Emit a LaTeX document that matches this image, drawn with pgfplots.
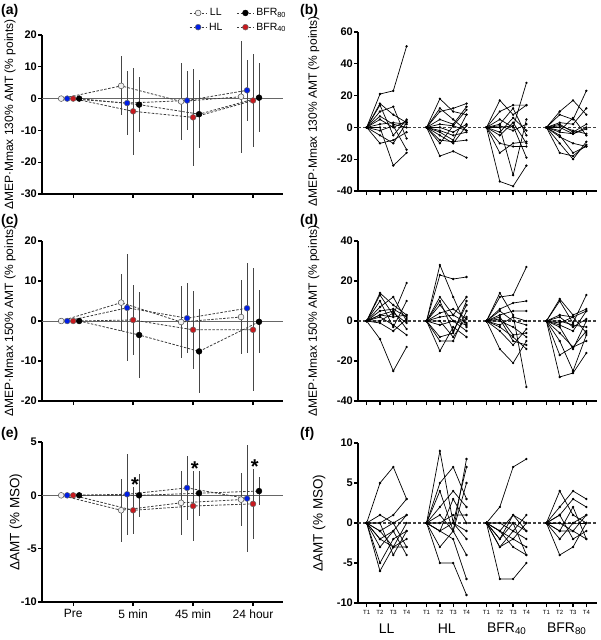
\documentclass[border=0pt]{standalone}
\usepackage{fontspec}
\setmainfont{Liberation Sans}
\usepackage{pgfplots}
\pgfplotsset{compat=1.18}
\usepackage{pgfplotstable}

\definecolor{myblue}{RGB}{0,30,230}
\definecolor{myred}{RGB}{200,25,30}
\definecolor{llfill}{RGB}{240,240,240}
\definecolor{errgray}{RGB}{70,70,70}
\definecolor{dashgray}{RGB}{60,60,60}

% group means and SD, t = 0 Pre, 1 5 min, 2 45 min, 3 24 hour
\pgfplotstableread{
t ll sll hl shl bf sbf bh sbh
0 0 0 0 0 0 0 0 0
1 4.0 9.3 -1.4 10.0 -4.0 13.7 -1.9 8.6
2 -0.9 12.2 -0.6 9.4 -5.9 15.3 -4.9 10.7
3 0.6 17.6 2.6 9.6 -0.6 14.7 0.3 10.9
}\tabA
\pgfplotstableread{
t ll sll hl shl bf sbf bh sbh
0 0 0 0 0 0 0 0 0
1 4.6 7.1 3.3 13.4 0.25 8.8 -3.5 10.7
2 -0.25 8.9 0.7 8.75 -2.2 9.7 -7.6 10.5
3 1.0 9.2 3.2 11.2 -2.2 15.4 -0.2 7.9
}\tabC
\pgfplotstableread{
t ll sll hl shl bf sbf bh sbh
0 0 0 0 0 0 0 0 0
1 -1.4 2.95 0.1 3.8 -1.4 2.2 0.0 2.0
2 -0.7 3.0 0.7 3.0 -1.0 3.25 0.2 2.1
3 -0.4 2.5 -0.3 5.0 -0.8 3.3 0.4 1.35
}\tabE

\pgfplotsset{
  base/.style={scale only axis, axis x line*=bottom, axis y line*=left,
    tick align=outside, major tick length=4pt,
    axis line style={line width=1.3pt},
    every tick/.style={line width=1.3pt, black},
    tick label style={font=\bfseries\fontsize{11}{12}\selectfont},
    /pgf/number format/assume math mode=true,
    yticklabel style={inner sep=1pt},
    xticklabels={}, clip=false,
    ylabel style={font=\fontsize{12}{14}\selectfont, anchor=center}},
  leftax/.style={base, width=241pt, height=159pt, xmin=-0.52, xmax=3.5, xtick={0,1,2,3}},
  rightax/.style={base, width=239pt, height=159pt, xmin=-0.65, xmax=17.3,
    xtick={0,1,2,3,4.5,5.5,6.5,7.5,9,10,11,12,13.5,14.5,15.5,16.5}},
  spag/.style={black, line width=0.7pt, mark=*, mark size=0.8pt, forget plot},
  eb/.style={draw=none, mark=none, forget plot,
    error bars/.cd, y dir=both, y explicit, error mark=none,
    error bar style={line width=0.9pt, errgray, solid}},
  dl/.style={dashgray, line width=0.8pt, dash pattern=on 2.5pt off 1.5pt},
  mk/.style={only marks, mark=*, mark size=2.9pt, forget plot},
  mLL/.style={mark options={fill=llfill, draw=black!70, line width=0.5pt, solid}},
  mHL/.style={mark options={fill=myblue, draw=black!60, line width=0.5pt, solid}},
  mBF/.style={mark options={fill=myred, draw=black!60, line width=0.5pt, solid}},
  mBH/.style={mark options={fill=black, draw=black, line width=0.5pt, solid}},
}

\newcommand\means[1]{%
  \addplot[gray!80!black, line width=0.9pt, forget plot] coordinates {(-0.52,0) (3.5,0)};
  \addplot[eb] table[x expr=\thisrow{t}-0.2, y=ll, y error=sll]{#1};
  \addplot[eb] table[x expr=\thisrow{t}-0.1, y=hl, y error=shl]{#1};
  \addplot[eb] table[x expr=\thisrow{t}, y=bf, y error=sbf]{#1};
  \addplot[eb] table[x expr=\thisrow{t}+0.1, y=bh, y error=sbh]{#1};
  \addplot[dl, forget plot] table[x expr=\thisrow{t}-0.2, y=ll]{#1};
  \addplot[dl, forget plot] table[x expr=\thisrow{t}-0.1, y=hl]{#1};
  \addplot[dl, forget plot] table[x expr=\thisrow{t}, y=bf]{#1};
  \addplot[dl, forget plot] table[x expr=\thisrow{t}+0.1, y=bh]{#1};
  \addplot[mk, mLL] table[x expr=\thisrow{t}-0.2, y=ll]{#1};
  \addplot[mk, mHL] table[x expr=\thisrow{t}-0.1, y=hl]{#1};
  \addplot[mk, mBF] table[x expr=\thisrow{t}, y=bf]{#1};
  \addplot[mk, mBH] table[x expr=\thisrow{t}+0.1, y=bh]{#1};
}
% one subject per call: values at T2, T3, T4 (T1 = 0)
\newcommand\ga[3]{\addplot[spag] coordinates {(0,0)(1,#1)(2,#2)(3,#3)};}
\newcommand\gb[3]{\addplot[spag] coordinates {(4.5,0)(5.5,#1)(6.5,#2)(7.5,#3)};}
\newcommand\gc[3]{\addplot[spag] coordinates {(9,0)(10,#1)(11,#2)(12,#3)};}
\newcommand\gd[3]{\addplot[spag] coordinates {(13.5,0)(14.5,#1)(15.5,#2)(16.5,#3)};}
\newcommand\zline{\addplot[black!75, line width=1.2pt, dash pattern=on 3pt off 2pt, forget plot] coordinates {(-0.65,0) (17.3,0)};}
\newcommand\signif[2]{\node[font=\bfseries\fontsize{20}{20}\selectfont, yshift=-4.5pt] at (axis cs:#1,#2) {*};}

\begin{document}
\begin{tikzpicture}
\useasboundingbox (0,0) rectangle (600pt,-640pt);

% ---------- (a) ----------
\begin{axis}[leftax, at={(42pt,-194pt)}, anchor=south west,
  ymin=-30, ymax=20, ytick={-30,-20,...,20},
  ylabel={ΔMEP·Mmax 130\% AMT (\% points)},
  ylabel style={at={(axis description cs:-0.133,0.5)}},
  legend columns=2,
  legend style={draw=none, fill=none, font=\fontsize{10.5}{12}\selectfont,
    at={(axis description cs:0.61,1.18)}, anchor=north west,
    inner sep=0pt, row sep=1.5pt,
    /tikz/every even column/.append style={column sep=12pt}},
]
\means{\tabA}
\addlegendimage{dl, mark=*, mark size=2.9pt, mLL}
\addlegendentry{LL}
\addlegendimage{dl, mark=*, mark size=2.9pt, mBH}
\addlegendentry{BFR\textsubscript{80}}
\addlegendimage{dl, mark=*, mark size=2.9pt, mHL}
\addlegendentry{HL}
\addlegendimage{dl, mark=*, mark size=2.9pt, mBF}
\addlegendentry{BFR\textsubscript{40}}
\end{axis}

% ---------- (c) ----------
\begin{axis}[leftax, at={(42pt,-401pt)}, anchor=south west, height=160pt,
  ymin=-20, ymax=20, ytick={-20,-10,...,20},
  ylabel={ΔMEP·Mmax 150\% AMT (\% points)},
  ylabel style={at={(axis description cs:-0.133,0.5)}},
]
\means{\tabC}
\end{axis}

% ---------- (e) ----------
\begin{axis}[leftax, at={(42pt,-602pt)}, anchor=south west, height=160pt,
  ymin=-10, ymax=5, ytick={-10,-5,0,5},
  xticklabels={Pre,5 min,45 min,24 hour},
  xticklabel style={font=\fontsize{12}{14}\selectfont},
  ylabel={ΔAMT (\% MSO)},
  ylabel style={at={(axis description cs:-0.108,0.5)}, font=\fontsize{13.5}{15}\selectfont},
]
\means{\tabE}
\signif{1.03}{1.43}
\signif{2.03}{2.9}
\signif{3.03}{3.14}
\end{axis}

% ---------- (b) ----------
\begin{axis}[rightax, at={(358pt,-191pt)}, anchor=south west,
  ymin=-40, ymax=60, ytick={-40,-20,...,60},
  ylabel={ΔMEP·Mmax 130\% AMT (\% points)},
  ylabel style={at={(axis description cs:-0.185,0.5)}},
]
\zline
\ga{21}{23}{51} \ga{15}{8}{3} \ga{14}{-5}{5} \ga{10}{13}{-7} \ga{5}{0}{4} \ga{2}{3}{2}
\ga{-2}{1}{-14} \ga{-10}{-8}{-3} \ga{0}{-24}{-16} \ga{7}{2}{0} \ga{-5}{-10}{3}
\gb{18}{10}{8} \gb{10}{12}{15} \gb{12}{5}{-2} \gb{5}{2}{13} \gb{0}{-3}{2} \gb{-3}{-8}{8}
\gb{-5}{-10}{1} \gb{-8}{-9}{-8} \gb{-18}{-15}{-19} \gb{2}{1}{11} \gb{-2}{-5}{-3} \gb{-10}{1}{-2}
\gc{17}{8}{14} \gc{10}{14}{14} \gc{2}{12}{-5} \gc{0}{-30}{5} \gc{-16}{-10}{-9} \gc{-34}{-37}{-24}
\gc{5}{0}{28} \gc{-5}{3}{-10} \gc{-10}{-12}{-12} \gc{1}{-2}{2} \gc{-3}{6}{-2} \gc{0}{1}{-19}
\gd{10}{17}{8} \gd{8}{5}{23} \gd{3}{2}{12} \gd{2}{-3}{2} \gd{0}{-4}{-1} \gd{-3}{-4}{0}
\gd{-5}{-16}{-12} \gd{-16}{-18}{-11} \gd{-10}{-20}{-9} \gd{1}{-2}{-4} \gd{-6}{-10}{-12} \gd{-2}{6}{-5}
\end{axis}

% ---------- (d) ----------
\begin{axis}[rightax, at={(358pt,-401pt)}, anchor=south west, height=160pt,
  ymin=-40, ymax=40, ytick={-40,-20,...,40},
  ylabel={ΔMEP·Mmax 150\% AMT (\% points)},
  ylabel style={at={(axis description cs:-0.185,0.5)}},
]
\zline
\ga{14}{8}{3} \ga{13}{3}{19} \ga{10}{-3}{10} \ga{7}{12}{0} \ga{3}{5}{-4} \ga{3}{2}{3}
\ga{-1}{-5}{1} \ga{-9}{-25}{-13} \ga{2}{-2}{-7} \ga{5}{6}{2} \ga{0}{4}{-1}
\gb{28}{12}{-3} \gb{23}{21}{22} \gb{12}{3}{12} \gb{10}{-5}{8} \gb{4}{6}{1} \gb{0}{-8}{2}
\gb{-2}{0}{-5} \gb{-10}{-10}{5} \gb{-15}{-3}{-8} \gb{8}{0}{-2} \gb{-8}{-6}{10} \gb{2}{3}{-1}
\gc{12}{13}{27} \gc{14}{3}{-33} \gc{6}{9}{10} \gc{3}{5}{5} \gc{0}{-3}{-8} \gc{-3}{-8}{-14}
\gc{-14}{-21}{-10} \gc{-5}{-12}{-4} \gc{2}{-7}{-6} \gc{5}{0}{-2} \gc{-2}{2}{0} \gc{1}{-10}{-12}
\gd{11}{3}{6} \gd{10}{-1}{13} \gd{3}{2}{5} \gd{2}{-3}{1} \gd{-2}{-5}{5} \gd{-6}{-13}{-5}
\gd{-17}{-13}{-10} \gd{-28}{-26}{-16} \gd{-10}{-25}{-7} \gd{0}{-2}{-3} \gd{-1}{2}{-6} \gd{-3}{-14}{0}
\end{axis}

% ---------- (f) ----------
\begin{axis}[rightax, at={(358pt,-603pt)}, anchor=south west, height=160pt,
  ymin=-10, ymax=10, ytick={-10,-5,0,5,10},
  xticklabels={T1,T2,T3,T4,T1,T2,T3,T4,T1,T2,T3,T4,T1,T2,T3,T4},
  xticklabel style={font=\fontsize{6}{7}\selectfont},
  ylabel={ΔAMT (\% MSO)},
  ylabel style={at={(axis description cs:-0.163,0.5)}, font=\fontsize{13.5}{15}\selectfont},
]
\zline
\ga{5}{7}{3} \ga{1}{0}{1} \ga{0}{1}{3} \ga{-1}{-3}{-2} \ga{-2}{-1}{-4} \ga{-5}{-2}{-1}
\ga{-6}{-3}{-3} \ga{-2}{-3}{0} \ga{0}{-4}{-1} \ga{-1}{0}{-3} \ga{-3}{-1}{1}
\gb{9}{0}{7} \gb{5}{7}{3} \gb{2}{4}{2} \gb{4}{-1}{8} \gb{0}{1}{1} \gb{-1}{0}{-1}
\gb{-1}{3}{0} \gb{-3}{-1}{-4} \gb{-5}{-5}{-9} \gb{-1}{-2}{-7} \gb{0}{0}{-2} \gb{1}{-1}{5}
\gc{2}{7}{8} \gc{-7}{-7}{-5} \gc{-1}{1}{0} \gc{-2}{0}{-4} \gc{-3}{-1}{-2} \gc{-1}{-2}{-3}
\gc{0}{-1}{1} \gc{-2}{1}{-1} \gc{-1}{-3}{-4} \gc{0}{0}{-1} \gc{-3}{-2}{0}
\gd{4}{1}{0} \gd{2}{4}{3} \gd{1}{3}{2} \gd{0}{-1}{1} \gd{-1}{-1}{-2} \gd{-2}{0}{1}
\gd{-4}{-3}{0} \gd{1}{-2}{-1} \gd{0}{0}{0} \gd{-1}{2}{-2}
\end{axis}

% group names under (f)
\begin{scope}[every node/.style={font=\fontsize{14}{15}\selectfont}]
\node at (386.7pt,-629pt) {LL};
\node at (446.7pt,-629pt) {HL};
\node at (506.7pt,-629pt) {BFR\textsubscript{40}};
\node at (566.7pt,-629pt) {BFR\textsubscript{80}};
\end{scope}

% panel letters
\begin{scope}[every node/.style={anchor=west, inner sep=0pt, font=\bfseries\fontsize{14}{15}\selectfont}]
\node at (1pt,-11pt) {(a)};
\node at (300pt,-11pt) {(b)};
\node at (1pt,-221pt) {(c)};
\node at (300pt,-221pt) {(d)};
\node at (1pt,-434pt) {(e)};
\node at (300pt,-434pt) {(f)};
\end{scope}
\end{tikzpicture}
\end{document}
